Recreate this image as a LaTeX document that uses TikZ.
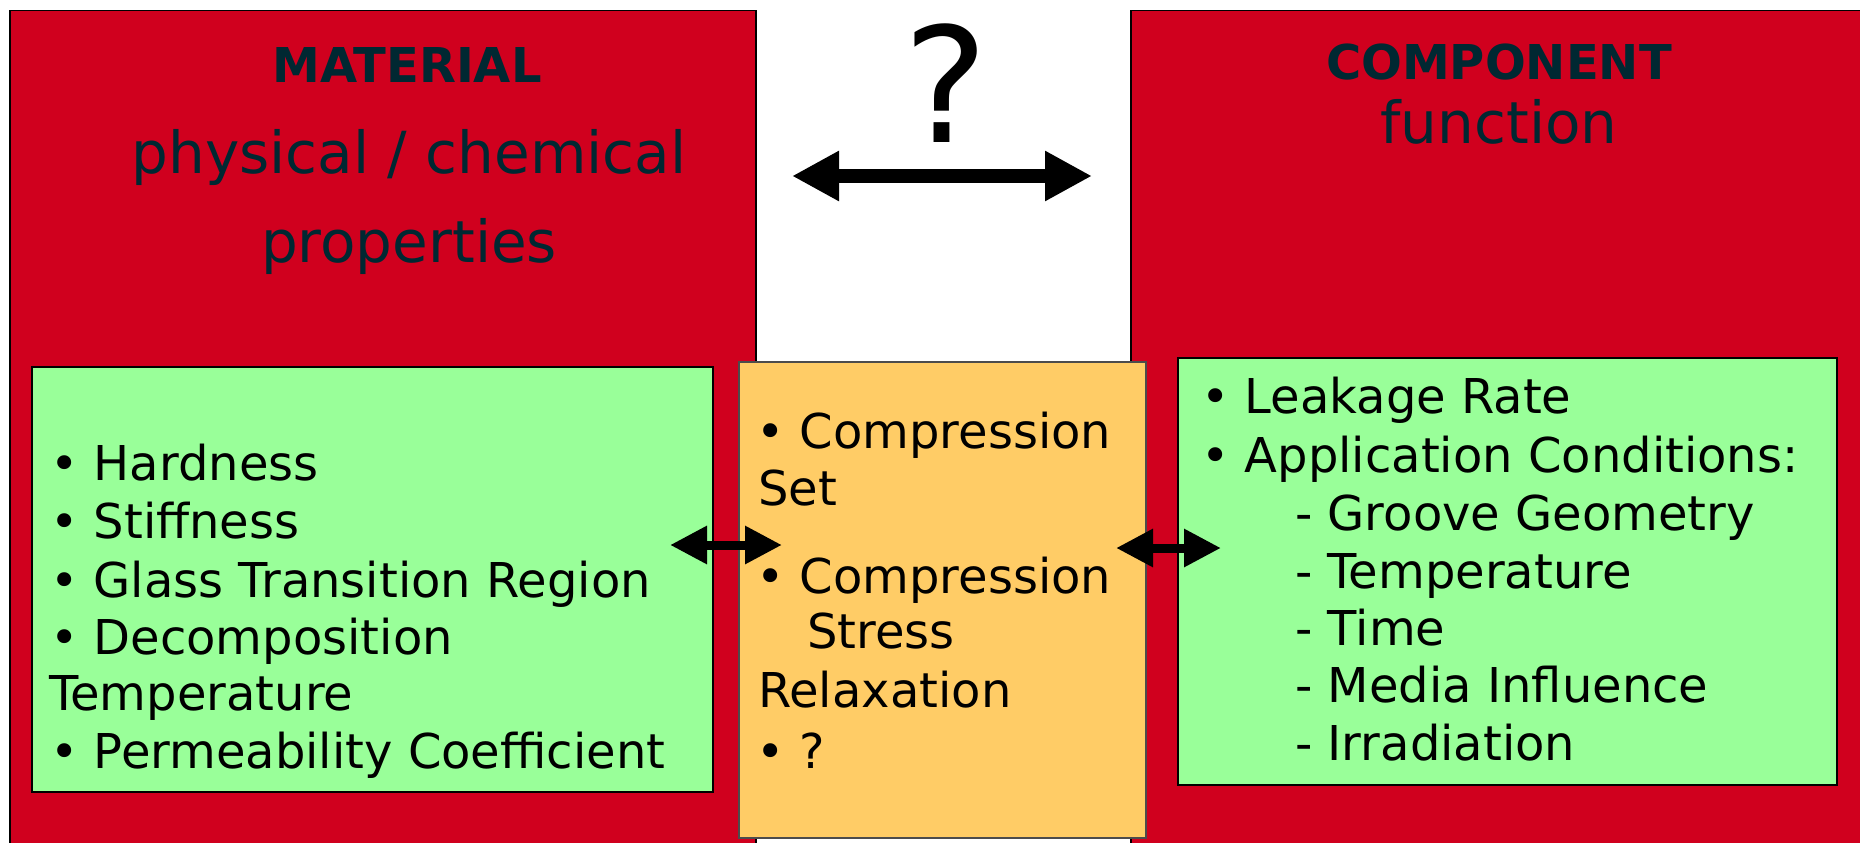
\documentclass[tikz,border=0pt]{standalone}
\usepackage{fontspec}
\setmainfont{DejaVu Sans}
\usetikzlibrary{arrows.meta}
\definecolor{boxred}{RGB}{208,0,30}
\definecolor{boxgreen}{RGB}{153,255,153}
\definecolor{boxorange}{RGB}{255,204,102}
\definecolor{titleblue}{RGB}{0,40,50}

\begin{document}
\begin{tikzpicture}[x=1pt,y=-1pt]
        \tikzset{redbox/.style = {draw=black, line width=1.5pt, fill=boxred, inner sep=0pt, anchor=north west}}
        \tikzset{greenbox/.style = {draw=black, line width=2pt, fill=boxgreen, inner sep=0pt, anchor=north west}}
        \tikzset{orangebox/.style = {draw=black!70, line width=1.5pt, fill=boxorange, inner sep=0pt, anchor=north west}}
        \tikzset{title/.style = {text=titleblue, inner sep=0pt, anchor=base, font=\fontsize{48}{58}\selectfont\bfseries}}
        \tikzset{subtitle/.style = {text=titleblue, inner sep=0pt, anchor=base, font=\fontsize{58}{70}\selectfont}}
        \tikzset{item/.style = {inner sep=0pt, anchor=base west, font=\fontsize{48}{57}\selectfont}}
        \tikzset{bigarrow/.style = {{Triangle[length=47pt,width=47pt]}-{Triangle[length=47pt,width=47pt]}, line width=14pt}}
        \tikzset{smallarrow/.style = {{Triangle[length=37pt,width=36pt]}-{Triangle[length=37pt,width=36pt]}, line width=9pt}}
        \path[fill=white] (0,0) rectangle (1860,843);
        \useasboundingbox (0,0) rectangle (1860,843);
        % boxes
        \node[redbox, minimum width=746pt, minimum height=840pt] (material) at (9,10) {};
        \node[redbox, minimum width=740pt, minimum height=840pt] (component) at (1130,10) {};
        \node[greenbox, minimum width=681pt, minimum height=425pt] (props) at (31,366) {};
        \node[orangebox, minimum width=407pt, minimum height=476pt] (tests) at (738,361) {};
        \node[greenbox, minimum width=659pt, minimum height=427pt] (func) at (1177,357) {};
        % titles
        \node[title] (mattitle) at (407,82) {MATERIAL};
        \node[subtitle] (matsub1) at (409,173) {physical / chemical};
        \node[subtitle] (matsub2) at (409,262) {properties};
        \node[title] (comptitle) at (1499,79) {COMPONENT};
        \node[subtitle] (compsub) at (1499,143) {function};
        \node[inner sep=0pt, anchor=base, font=\fontsize{160}{190}\selectfont] (quest) at (946,142) {?};
        % material items
        \node[item] (p1) at (50,480) {• Hardness};
        \node[item] (p2) at (50,538) {• Stiffness};
        \node[item] (p3) at (50,597) {• Glass Transition Region};
        \node[item] (p4) at (50,654) {• Decomposition};
        \node[item] (p5) at (49,710) {Temperature};
        \node[item] (p6) at (50,768) {• Permeability Coefficient};
        % test items
        \node[item] (t1) at (756,448) {• Compression};
        \node[item] (t2) at (758,505) {Set};
        \node[item] (t3) at (756,593) {• Compression};
        \node[item] (t4) at (807,648) {Stress};
        \node[item] (t5) at (758,707) {Relaxation};
        \node[item] (t6) at (756,768) {• ?};
        % component items
        \node[item] (f1) at (1201,413) {• Leakage Rate};
        \node[item] (f2) at (1201,472) {• Application Conditions:};
        \node[item] (f3) at (1295,530) {- Groove Geometry};
        \node[item] (f4) at (1295,588) {- Temperature};
        \node[item] (f5) at (1295,645) {- Time};
        \node[item] (f6) at (1295,702) {- Media Influence};
        \node[item] (f7) at (1295,760) {- Irradiation};
        % arrows
        \coordinate (qa) at (792,176);
        \coordinate (qb) at (1092,176);
        \coordinate (la) at (670,545);
        \coordinate (lb) at (782,545);
        \coordinate (ra) at (1116,548);
        \coordinate (rb) at (1221,548);
        \draw[bigarrow] (qa) -- (qb);
        \draw[smallarrow] (la) -- (lb);
        \draw[smallarrow] (ra) -- (rb);
\end{tikzpicture}
\end{document}
